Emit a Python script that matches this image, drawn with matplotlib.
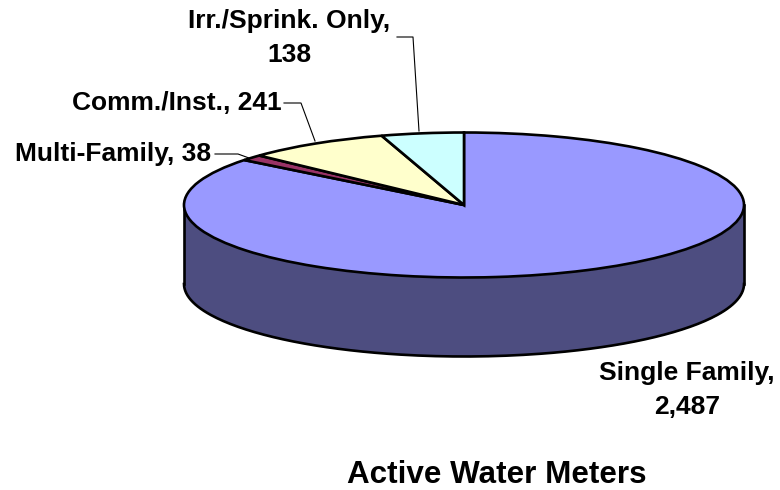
import numpy as np
import matplotlib
matplotlib.use("Agg")
import matplotlib.pyplot as plt

labels = ["Single Family,\n2,487", "Multi-Family, 38", "Comm./Inst., 241", "Irr./Sprink. Only,\n138"]
values = [2487, 38, 241, 138]
colors = ["#9999ff", "#993366", "#ffffcc", "#ccffff"]
title = "Active Water Meters"

W, H = 780, 490
cx, cy, rx, ry = 464, 205, 280, 72.5
depth = 79

plt.rcParams["font.family"] = ["Liberation Sans", "DejaVu Sans"]
plt.rcParams["font.weight"] = "bold"

fig = plt.figure(figsize=(W / 100, H / 100), dpi=100)
# axes box is the ellipse, so the unit pie gets squashed
ax = fig.add_axes([(cx - rx) / W, 1 - (cy + ry) / H, 2 * rx / W, 2 * ry / H])


def px(x, y):
    return (x - cx) / rx, (cy - y) / ry


# side of the disc
t = np.linspace(np.pi, 2 * np.pi, 200)
d = depth / ry
ax.fill_between(np.cos(t), np.sin(t), np.sin(t) - d, color="#4d4d80", lw=0, clip_on=False, zorder=1)
ax.plot(np.cos(t), np.sin(t) - d, color="black", lw=1.9, clip_on=False, zorder=2)
ax.plot([-1, -1], [0, -d], color="black", lw=1.9, clip_on=False, zorder=2)
ax.plot([1, 1], [0, -d], color="black", lw=1.9, clip_on=False, zorder=2)

wedges, _ = ax.pie(values, colors=colors, startangle=90, counterclock=False,
                   radius=1, wedgeprops=dict(edgecolor="black", linewidth=1.9, zorder=3))
for w in wedges:
    w.set_clip_on(False)
ax.set_aspect("auto")
ax.set_xlim(-1, 1)
ax.set_ylim(-1, 1)
ax.axis("off")

# leader lines
leaders = [
    ([215, 238, 249], [154, 154, 158]),
    ([284, 301, 315], [103, 103, 141]),
    ([397, 413, 419], [37, 37, 131]),
]
for xs, ys in leaders:
    pts = [px(a, b) for a, b in zip(xs, ys)]
    ax.plot([p[0] for p in pts], [p[1] for p in pts], color="black", lw=0.8, clip_on=False, zorder=4)

# labels, pixel positions
spots = [(687, 390), (113, 154), (177, 103), (289, 38)]
for lab, (x, y) in zip(labels, spots):
    fig.text(x / W, 1 - y / H, lab, ha="center", va="center", fontsize=19,
             fontweight="bold", linespacing=1.55, color="black")
fig.text(496.5 / W, 1 - 474.5 / H, title, ha="center", va="center", fontsize=22.6, fontweight="bold", color="black")

fig.savefig("out.png", dpi=100)
